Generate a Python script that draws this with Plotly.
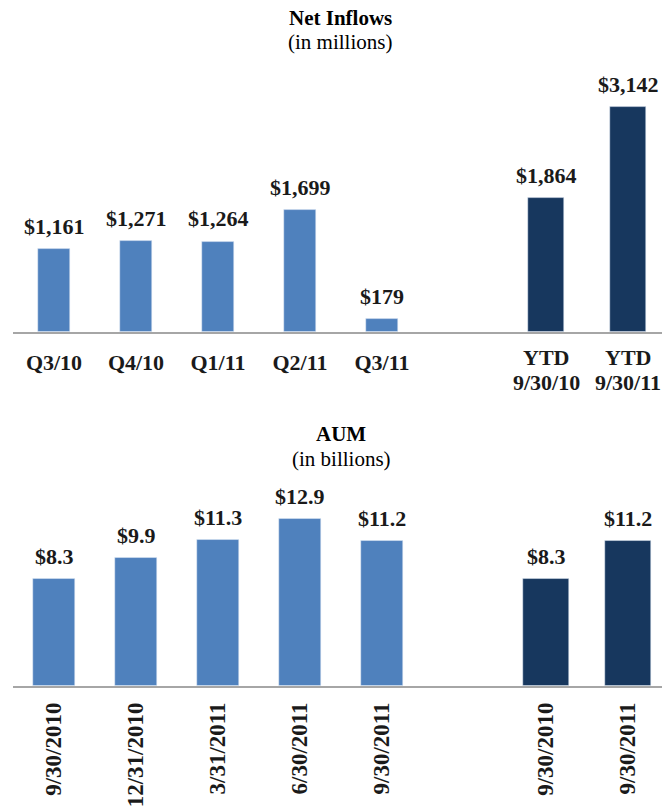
import plotly.graph_objects as go

# ---- data ----
inflow_q_labels = ["Q3/10", "Q4/10", "Q1/11", "Q2/11", "Q3/11"]
inflow_q_values = [1161, 1271, 1264, 1699, 179]
inflow_ytd_labels = ["YTD", "YTD"]
inflow_ytd_dates = ["9/30/10", "9/30/11"]
inflow_ytd_values = [1864, 3142]

aum_q_labels = ["9/30/2010", "12/31/2010", "3/31/2011", "6/30/2011", "9/30/2011"]
aum_q_values = [8.3, 9.9, 11.3, 12.9, 11.2]
aum_ytd_labels = ["9/30/2010", "9/30/2011"]
aum_ytd_values = [8.3, 11.2]

q_pos = [0, 1, 2, 3, 4]
ytd_pos = [6, 7]

# ---- style ----
LIGHT = "#4F81BD"
DARK = "#17375E"
AXIS = "#A6A6A6"
FONT = "Liberation Serif"
TXT = "#1a1a1a"
W, H = 662, 807

def py(px):
    return 1 - px / H

fig = go.Figure()

fig.add_trace(go.Bar(x=q_pos, y=inflow_q_values, marker_color=LIGHT, width=0.40,
                     xaxis="x", yaxis="y", hoverinfo="skip"))
fig.add_trace(go.Bar(x=ytd_pos, y=inflow_ytd_values, marker_color=DARK, width=0.43,
                     xaxis="x", yaxis="y", hoverinfo="skip"))
fig.add_trace(go.Bar(x=q_pos, y=aum_q_values, marker_color=LIGHT, width=0.52,
                     xaxis="x2", yaxis="y2", hoverinfo="skip"))
fig.add_trace(go.Bar(x=ytd_pos, y=aum_ytd_values, marker_color=DARK, width=0.55,
                     xaxis="x2", yaxis="y2", hoverinfo="skip"))

annotations = []
for x, v in zip(q_pos + ytd_pos, inflow_q_values + inflow_ytd_values):
    annotations.append(dict(x=x, y=v, xref="x", yref="y", text=f"<b>${v:,}</b>",
                            showarrow=False, yanchor="bottom", yshift=8,
                            font=dict(family=FONT, size=22, color=TXT)))
for x, v in zip(q_pos + ytd_pos, aum_q_values + aum_ytd_values):
    annotations.append(dict(x=x, y=v, xref="x2", yref="y2", text=f"<b>${v:.1f}</b>",
                            showarrow=False, yanchor="bottom", yshift=8,
                            font=dict(family=FONT, size=22, color=TXT)))
# two-line YTD category labels
for x, lab, d in zip(ytd_pos, inflow_ytd_labels, inflow_ytd_dates):
    annotations.append(dict(x=x, y=py(358), xref="x", yref="paper", text=f"<b>{lab}</b>",
                            showarrow=False, yanchor="middle", borderpad=0,
                            font=dict(family=FONT, size=22, color=TXT)))
    annotations.append(dict(x=x, y=py(383), xref="x", yref="paper", text=f"<b>{d}</b>",
                            showarrow=False, yanchor="middle", borderpad=0,
                            font=dict(family=FONT, size=22, color=TXT)))

titles = [
    ("<b>Net Inflows</b>", 340, 18),
    ("(in millions)", 340, 42),
    ("<b>AUM</b>", 341, 435),
    ("(in billions)", 341, 460),
]
for t, xc, yc in titles:
    annotations.append(dict(x=xc / W, y=py(yc), xref="paper", yref="paper", text=t,
                            showarrow=False, xanchor="center", yanchor="middle",
                            borderpad=0,
                            font=dict(family=FONT, size=21, color="black")))

x_dom = [13 / W, 1]
x_rng = [-0.5, -0.5 + (W - 13) / 82]

common_x = dict(domain=x_dom, range=x_rng, showgrid=False, zeroline=False,
                showline=True, linecolor=AXIS, linewidth=2,
                ticks="", fixedrange=True, ticklabeloverflow="allow")

fig.update_layout(
    width=W, height=H,
    margin=dict(l=0, r=0, t=0, b=0),
    paper_bgcolor="white", plot_bgcolor="white",
    showlegend=False,
    bargap=0,
    xaxis=dict(**common_x, anchor="y", tickvals=q_pos,
               ticktext=[f"<b>{t}</b>" for t in inflow_q_labels],
               tickfont=dict(family=FONT, size=22, color=TXT),
               tickangle=0, ticklabelstandoff=9),
    yaxis=dict(domain=[py(333), py(60)], range=[0, 273 / 0.072], visible=False,
               fixedrange=True),
    xaxis2=dict(**common_x, anchor="y2", tickvals=q_pos + ytd_pos,
                ticktext=[f"<b>{t}</b>" for t in aum_q_labels + aum_ytd_labels],
                tickfont=dict(family=FONT, size=23, color=TXT),
                tickangle=-90, ticklabelstandoff=5),
    yaxis2=dict(domain=[py(688), py(480)], range=[0, 208 / 13], visible=False,
                fixedrange=True),
    annotations=annotations,
)

fig.write_html("out.html", config={"displayModeBar": False},
               post_script="document.body.style.margin='0';document.body.style.overflow='hidden';")
